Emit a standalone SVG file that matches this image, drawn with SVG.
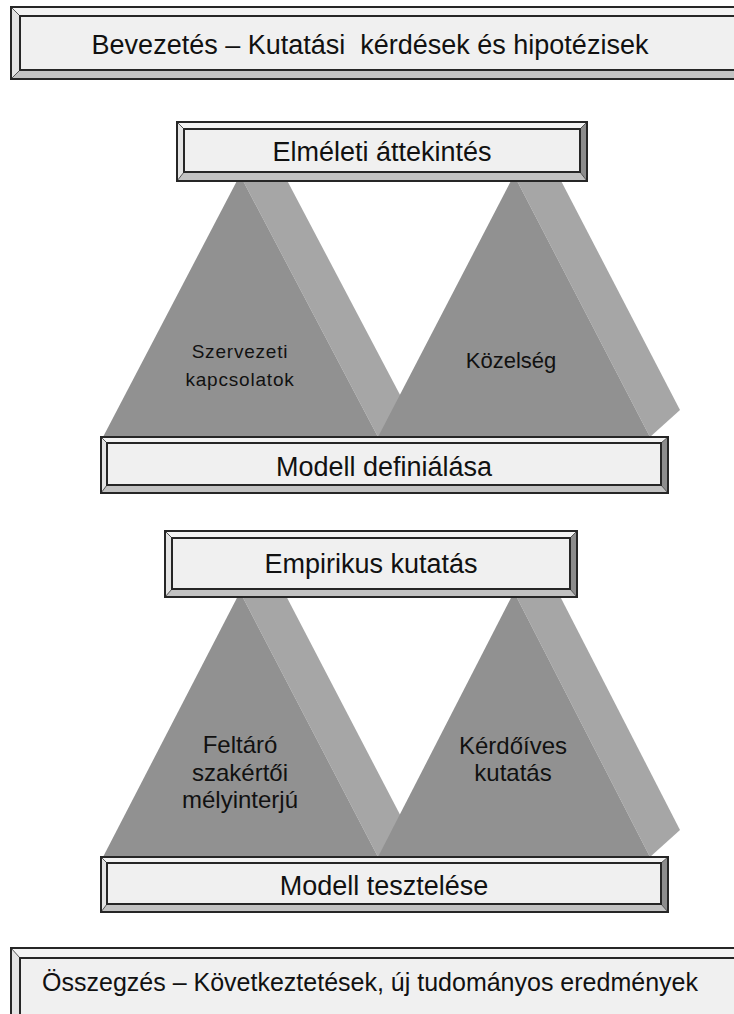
<svg xmlns="http://www.w3.org/2000/svg" width="734" height="1014" viewBox="0 0 734 1014">
<style>
.outer{fill:none;stroke:#262626;stroke-width:2}
.inner{fill:#f0f0f0;stroke:#262626;stroke-width:2}
.bt{fill:#f3f3f3}
.bl{fill:#e4e4e4}
.bb{fill:#c2c2c2}
.br{fill:#8c8c8c}
.diag{stroke:#555;stroke-width:1;fill:none}
.front{fill:#919191}
.side{fill:#a6a6a6}
.lbl{font-family:"Liberation Sans",Arial,sans-serif;fill:#111;text-anchor:middle}
</style>
<rect width="734" height="1014" fill="#fff"/>

<g id="tri1">
  <polygon class="side" points="240,175 270,148 408,410 378,437"/>
  <polygon class="front" points="240,175 103,437 378,437"/>
  <polygon class="side" points="514,175 544,148 680,410 650,437"/>
  <polygon class="front" points="514,175 378,437 650,437"/>
  <text class="lbl" x="240" y="358" font-size="19" letter-spacing="0.8">Szervezeti</text>
  <text class="lbl" x="240" y="386" font-size="19" letter-spacing="0.8">kapcsolatok</text>
  <text class="lbl" x="511" y="368" font-size="22">Közelség</text>
</g>

<g id="tri2">
  <polygon class="side" points="240,592 270,565 408,830 378,857"/>
  <polygon class="front" points="240,592 103,857 378,857"/>
  <polygon class="side" points="514,592 544,565 680,830 650,857"/>
  <polygon class="front" points="514,592 378,857 650,857"/>
  <text class="lbl" x="240" y="753" font-size="24">Feltáró</text>
  <text class="lbl" x="240" y="781" font-size="24">szakértői</text>
  <text class="lbl" x="240" y="808" font-size="24">mélyinterjú</text>
  <text class="lbl" x="513" y="754" font-size="24">Kérdőíves</text>
  <text class="lbl" x="513" y="781" font-size="24">kutatás</text>
</g>

<g id="box-bevezetes">
  <polygon class="bt" points="11,7 745,7 736,16 20,16"/>
  <polygon class="bl" points="11,7 20,16 20,70 11,79"/>
  <polygon class="bb" points="11,79 20,70 736,70 745,79"/>
  <line class="diag" x1="11" y1="7" x2="20" y2="16"/>
  <line class="diag" x1="11" y1="79" x2="20" y2="70"/>
  <rect class="outer" x="11" y="7" width="734" height="72"/>
  <rect class="inner" x="20" y="16" width="716" height="54"/>
  <text class="lbl" x="370" y="54" font-size="27" xml:space="preserve">Bevezetés – Kutatási  kérdések és hipotézisek</text>
</g>

<g id="box-elmeleti">
  <polygon class="bt" points="177,122 587,122 580,129 184,129"/>
  <polygon class="bl" points="177,122 184,129 184,172 177,181"/>
  <polygon class="bb" points="177,181 184,172 580,172 587,181"/>
  <polygon class="br" points="587,122 587,181 580,172 580,129"/>
  <line class="diag" x1="177" y1="122" x2="184" y2="129"/>
  <line class="diag" x1="177" y1="181" x2="184" y2="172"/>
  <line class="diag" x1="587" y1="122" x2="580" y2="129"/>
  <line class="diag" x1="587" y1="181" x2="580" y2="172"/>
  <rect class="outer" x="177" y="122" width="410" height="59"/>
  <rect class="inner" x="184" y="129" width="396" height="43"/>
  <text class="lbl" x="382" y="161" font-size="27">Elméleti áttekintés</text>
</g>

<g id="box-modell-def">
  <polygon class="bt" points="101,437 668,437 661,443 107,443"/>
  <polygon class="bl" points="101,437 107,443 107,485 101,493"/>
  <polygon class="bb" points="101,493 107,485 661,485 668,493"/>
  <polygon class="br" points="668,437 668,493 661,485 661,443"/>
  <line class="diag" x1="101" y1="437" x2="107" y2="443"/>
  <line class="diag" x1="101" y1="493" x2="107" y2="485"/>
  <line class="diag" x1="668" y1="437" x2="661" y2="443"/>
  <line class="diag" x1="668" y1="493" x2="661" y2="485"/>
  <rect class="outer" x="101" y="437" width="567" height="56"/>
  <rect class="inner" x="107" y="443" width="554" height="42"/>
  <text class="lbl" x="384" y="476" font-size="27">Modell definiálása</text>
</g>

<g id="box-empirikus">
  <polygon class="bt" points="165,531 577,531 570,538 172,538"/>
  <polygon class="bl" points="165,531 172,538 172,589 165,597"/>
  <polygon class="bb" points="165,597 172,589 570,589 577,597"/>
  <polygon class="br" points="577,531 577,597 570,589 570,538"/>
  <line class="diag" x1="165" y1="531" x2="172" y2="538"/>
  <line class="diag" x1="165" y1="597" x2="172" y2="589"/>
  <line class="diag" x1="577" y1="531" x2="570" y2="538"/>
  <line class="diag" x1="577" y1="597" x2="570" y2="589"/>
  <rect class="outer" x="165" y="531" width="412" height="66"/>
  <rect class="inner" x="172" y="538" width="398" height="51"/>
  <text class="lbl" x="371" y="573" font-size="27">Empirikus kutatás</text>
</g>

<g id="box-modell-teszt">
  <polygon class="bt" points="101,857 668,857 661,863 107,863"/>
  <polygon class="bl" points="101,857 107,863 107,904 101,912"/>
  <polygon class="bb" points="101,912 107,904 661,904 668,912"/>
  <polygon class="br" points="668,857 668,912 661,904 661,863"/>
  <line class="diag" x1="101" y1="857" x2="107" y2="863"/>
  <line class="diag" x1="101" y1="912" x2="107" y2="904"/>
  <line class="diag" x1="668" y1="857" x2="661" y2="863"/>
  <line class="diag" x1="668" y1="912" x2="661" y2="904"/>
  <rect class="outer" x="101" y="857" width="567" height="55"/>
  <rect class="inner" x="107" y="863" width="554" height="41"/>
  <text class="lbl" x="384" y="895" font-size="27">Modell tesztelése</text>
</g>

<g id="box-osszegzes">
  <polygon class="bt" points="11,948 745,948 736,958 20,958"/>
  <polygon class="bl" points="11,948 20,958 20,1020 11,1020"/>
  <line class="diag" x1="11" y1="948" x2="20" y2="958"/>
  <rect class="outer" x="11" y="948" width="734" height="80"/>
  <rect class="inner" x="20" y="958" width="716" height="62"/>
  <text class="lbl" x="370" y="991" font-size="25">Összegzés – Következtetések, új tudományos eredmények</text>
</g>

<g id="connectors"></g>
</svg>
